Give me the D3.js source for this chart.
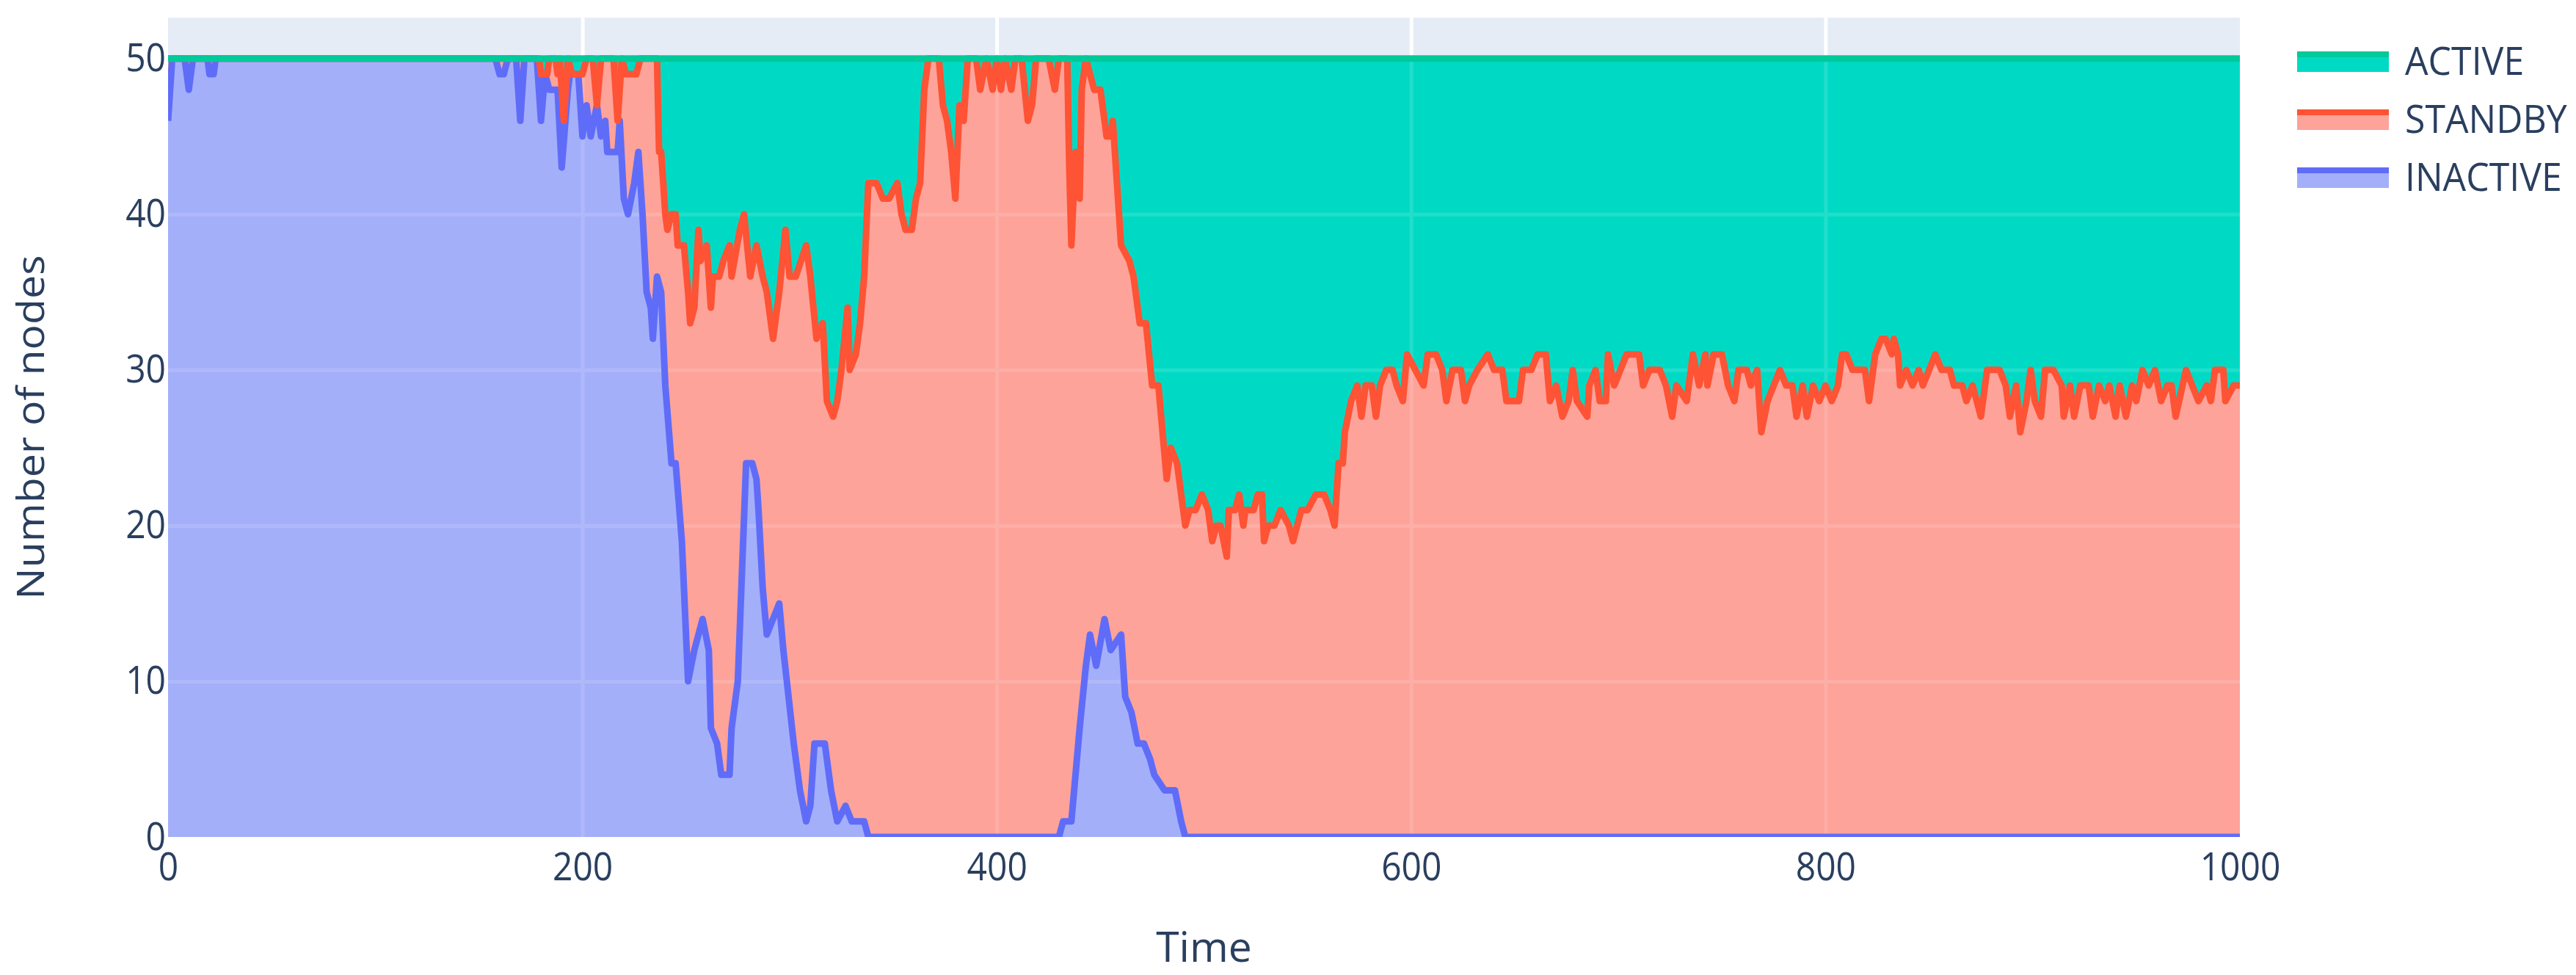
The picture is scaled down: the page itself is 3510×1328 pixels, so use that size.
<!DOCTYPE html>
<html>
<head>
<meta charset="utf-8">
<script src="https://cdn.jsdelivr.net/npm/d3@7"></script>
<style>
html, body { margin: 0; padding: 0; background: #fff; }
svg { display: block; font-family: 'Open Sans', verdana, arial, sans-serif; }
</style>
</head>
<body>
<svg id="chart" width="3510" height="1328"></svg>
<script>
// stacked levels (50 nodes in total)
// INACTIVE count
var inactiveTime = [0, 2, 8, 10, 12, 19, 20, 22, 23, 158,
	160, 162, 164, 168, 170, 172, 178, 180, 182, 184,
	188, 190, 193, 194, 198, 200, 202, 204, 207, 209,
	211, 212, 217, 218, 220, 222, 225, 227, 229, 231,
	233, 234, 236, 238, 240, 243, 245, 248, 251, 254,
	258, 261, 262, 265, 267, 271, 272, 275, 277, 279,
	282, 284, 285, 287, 289, 292, 295, 297, 302, 305,
	308, 310, 312, 317, 320, 323, 327, 330, 336, 338,
	430, 432, 436, 440, 443, 445, 448, 452, 455, 460,
	462, 465, 468, 471, 474, 476, 481, 486, 489, 491,
	1000];
var inactiveLevel = [46, 50, 50, 48, 50, 50, 49, 49, 50, 50,
	49, 49, 50, 50, 46, 50, 50, 46, 49, 48,
	48, 43, 48, 49, 49, 45, 47, 45, 47, 45,
	46, 44, 44, 46, 41, 40, 42, 44, 40, 35,
	34, 32, 36, 35, 29, 24, 24, 19, 10, 12,
	14, 12, 7, 6, 4, 4, 7, 10, 17, 24,
	24, 23, 21, 16, 13, 14, 15, 12, 6, 3,
	1, 2, 6, 6, 3, 1, 2, 1, 1, 0,
	0, 1, 1, 7, 11, 13, 11, 14, 12, 13,
	9, 8, 6, 6, 5, 4, 3, 3, 1, 0,
	0];

// INACTIVE + STANDBY
var standbyTime = [0, 179, 180, 183, 184, 187, 188, 189, 191, 193,
	195, 200, 202, 205, 207, 209, 215, 217, 219, 221,
	226, 228, 236, 237, 238, 240, 241, 243, 245, 246,
	249, 251, 252, 254, 256, 257, 260, 262, 263, 266,
	268, 271, 272, 276, 278, 281, 284, 287, 289, 292,
	295, 298, 300, 303, 308, 310, 313, 316, 318, 321,
	323, 325, 328, 329, 332, 334, 336, 338, 342, 345,
	348, 352, 354, 356, 359, 361, 363, 365, 367, 372,
	374, 376, 378, 380, 382, 384, 386, 390, 392, 395,
	398, 400, 402, 404, 407, 409, 412, 415, 417, 419,
	425, 428, 430, 434, 435, 436, 438, 440, 441, 443,
	445, 447, 450, 453, 455, 456, 460, 464, 466, 469,
	472, 475, 478, 482, 484, 487, 491, 493, 496, 499,
	502, 504, 506, 508, 511, 512, 515, 517, 519, 520,
	524, 526, 528, 529, 531, 534, 537, 541, 543, 545,
	547, 550, 554, 558, 561, 563, 565, 567, 568, 571,
	574, 576, 578, 581, 583, 585, 588, 591, 593, 596,
	598, 602, 606, 608, 612, 615, 617, 620, 624, 626,
	628, 632, 637, 640, 644, 646, 652, 654, 658, 661,
	665, 667, 670, 673, 676, 678, 680, 685, 686, 689,
	691, 694, 695, 698, 701, 704, 710, 712, 715, 720,
	723, 726, 728, 733, 736, 739, 742, 743, 746, 750,
	753, 756, 758, 762, 764, 767, 769, 772, 775, 778,
	781, 784, 786, 789, 791, 794, 797, 800, 803, 806,
	808, 810, 813, 819, 821, 824, 827, 829, 832, 833,
	835, 836, 839, 842, 845, 847, 850, 853, 856, 860,
	862, 866, 868, 871, 875, 878, 884, 887, 889, 892,
	894, 897, 899, 901, 904, 906, 910, 914, 915, 918,
	920, 923, 927, 929, 932, 935, 937, 940, 942, 945,
	948, 950, 953, 956, 959, 962, 965, 967, 969, 974,
	977, 980, 984, 986, 988, 992, 993, 997, 1000];
var standbyLevel = [50, 50, 49, 49, 50, 50, 49, 50, 46, 50,
	49, 49, 50, 50, 47, 50, 50, 46, 50, 49,
	49, 50, 50, 44, 44, 40, 39, 40, 40, 38,
	38, 35, 33, 34, 39, 37, 38, 34, 36, 36,
	37, 38, 36, 39, 40, 36, 38, 36, 35, 32,
	35, 39, 36, 36, 38, 36, 32, 33, 28, 27,
	28, 30, 34, 30, 31, 33, 36, 42, 42, 41,
	41, 42, 40, 39, 39, 41, 42, 48, 50, 50,
	47, 46, 44, 41, 47, 46, 50, 50, 48, 50,
	48, 50, 48, 50, 48, 50, 50, 46, 47, 50,
	50, 48, 50, 50, 43, 38, 44, 41, 48, 50,
	49, 48, 48, 45, 45, 46, 38, 37, 36, 33,
	33, 29, 29, 23, 25, 24, 20, 21, 21, 22,
	21, 19, 20, 20, 18, 21, 21, 22, 20, 21,
	21, 22, 22, 19, 20, 20, 21, 20, 19, 20,
	21, 21, 22, 22, 21, 20, 24, 24, 26, 28,
	29, 27, 29, 29, 27, 29, 30, 30, 29, 28,
	31, 30, 29, 31, 31, 30, 28, 30, 30, 28,
	29, 30, 31, 30, 30, 28, 28, 30, 30, 31,
	31, 28, 29, 27, 28, 30, 28, 27, 29, 30,
	28, 28, 31, 29, 30, 31, 31, 29, 30, 30,
	29, 27, 29, 28, 31, 29, 31, 29, 31, 31,
	29, 28, 30, 30, 29, 30, 26, 28, 29, 30,
	29, 29, 27, 29, 27, 29, 28, 29, 28, 29,
	31, 31, 30, 30, 28, 31, 32, 32, 31, 32,
	31, 29, 30, 29, 30, 29, 30, 31, 30, 30,
	29, 29, 28, 29, 27, 30, 30, 29, 27, 29,
	26, 28, 30, 28, 27, 30, 30, 29, 27, 29,
	27, 29, 29, 27, 29, 28, 29, 27, 29, 27,
	29, 28, 30, 29, 30, 28, 29, 29, 27, 30,
	29, 28, 29, 28, 30, 30, 28, 29, 29];

// INACTIVE + STANDBY + ACTIVE
var activeTime = [0, 1000];
var activeLevel = [50, 50];

var xTicks = [0, 200, 400, 600, 800, 1000];
var yTicks = [0, 10, 20, 30, 40, 50];
var seriesNames = ['ACTIVE', 'STANDBY', 'INACTIVE'];

var lineColors = {ACTIVE: '#00c99a', STANDBY: '#fe5335', INACTIVE: '#5f6cf8'};
var fillColors = {ACTIVE: '#00dac4', STANDBY: '#fda39a', INACTIVE: '#a4affa'};
var textColor = '#2a3f5f';

var plotLeft = 229, plotRight = 3052, plotTop = 24, plotBottom = 1140;

var svg = d3.select('#chart');

var x = d3.scaleLinear().domain([0, 1000]).range([plotLeft, plotRight]);
var y = d3.scaleLinear().domain([0, 52.63]).range([plotBottom, plotTop]);

function points(times, levels) {
	return times.map(function (t, i) {
		return {t: t, v: levels[i]};
	});
}

var series = {
	ACTIVE: points(activeTime, activeLevel),
	STANDBY: points(standbyTime, standbyLevel),
	INACTIVE: points(inactiveTime, inactiveLevel)
};

svg.append('defs').append('clipPath').attr('id', 'plot-clip')
	.append('rect')
	.attr('x', plotLeft)
	.attr('y', plotTop)
	.attr('width', plotRight - plotLeft)
	.attr('height', plotBottom - plotTop);

svg.append('rect')
	.attr('x', plotLeft)
	.attr('y', plotTop)
	.attr('width', plotRight - plotLeft)
	.attr('height', plotBottom - plotTop)
	.attr('fill', '#e5ecf6');

function grid(opacity) {
	var g = svg.append('g').attr('opacity', opacity);

	g.append('g')
		.attr('transform', 'translate(0,' + plotBottom + ')')
		.call(d3.axisBottom(x).tickValues([200, 400, 600, 800]).tickSize(-(plotBottom - plotTop)).tickFormat(''));

	g.append('g')
		.attr('transform', 'translate(' + plotLeft + ',0)')
		.call(d3.axisLeft(y).tickValues([10, 20, 30, 40]).tickSize(-(plotRight - plotLeft)).tickFormat(''));

	g.selectAll('.domain').remove();
	g.selectAll('line').attr('stroke', '#fff').attr('stroke-width', 5);
}

grid(1);

var area = d3.area()
	.x(function (d) { return x(d.t); })
	.y0(y(0))
	.y1(function (d) { return y(d.v); });

var line = d3.line()
	.x(function (d) { return x(d.t); })
	.y(function (d) { return y(d.v); });

var fills = svg.append('g').attr('clip-path', 'url(#plot-clip)');

seriesNames.forEach(function (name) {
	fills.append('path')
		.attr('d', area(series[name]))
		.attr('fill', fillColors[name]);
});

// gridlines show faintly through the fills
grid(0.13);

var lines = svg.append('g').attr('clip-path', 'url(#plot-clip)');

seriesNames.slice().reverse().forEach(function (name) {
	lines.append('path')
		.attr('d', line(series[name]))
		.attr('fill', 'none')
		.attr('stroke', lineColors[name])
		.attr('stroke-width', 9)
		.attr('stroke-linejoin', 'round');
});

// axes
var xAxis = svg.append('g')
	.attr('transform', 'translate(0,' + plotBottom + ')')
	.call(d3.axisBottom(x).tickValues(xTicks).tickSize(0).tickFormat(d3.format('d')));

var yAxis = svg.append('g')
	.attr('transform', 'translate(' + plotLeft + ',0)')
	.call(d3.axisLeft(y).tickValues(yTicks).tickSize(0).tickPadding(3).tickFormat(d3.format('d')));

[xAxis, yAxis].forEach(function (g) {
	g.attr('font-family', null).attr('font-size', 48);
	g.select('.domain').remove();
	g.selectAll('text').attr('fill', textColor).attr('dy', null).attr('transform', 'scale(1,1.1)');
});

xAxis.selectAll('text').attr('y', 59 / 1.1);
yAxis.selectAll('text').attr('y', 17 / 1.1);

svg.append('text')
	.attr('x', x(500))
	.attr('y', 1310)
	.attr('text-anchor', 'middle')
	.attr('font-size', 57)
	.attr('fill', textColor)
	.text('Time');

svg.append('text')
	.attr('transform', 'translate(60,' + ((plotTop + plotBottom) / 2) + ') scale(1,1.1) rotate(-90)')
	.attr('text-anchor', 'middle')
	.attr('font-size', 52)
	.attr('fill', textColor)
	.text('Number of nodes');

// legend
var legend = svg.append('g');

seriesNames.forEach(function (name, i) {
	var cy = 84 + i * 79;

	legend.append('rect')
		.attr('x', 3130)
		.attr('y', cy - 10)
		.attr('width', 125)
		.attr('height', 24)
		.attr('fill', fillColors[name]);

	legend.append('line')
		.attr('x1', 3130)
		.attr('x2', 3255)
		.attr('y1', cy - 10)
		.attr('y2', cy - 10)
		.attr('stroke', lineColors[name])
		.attr('stroke-width', 8);

	legend.append('text')
		.attr('transform', 'translate(3277,' + (cy + 18) + ') scale(1,1.06)')
		.attr('font-size', 50)
		.attr('fill', textColor)
		.text(name);
});
</script>
</body>
</html>
